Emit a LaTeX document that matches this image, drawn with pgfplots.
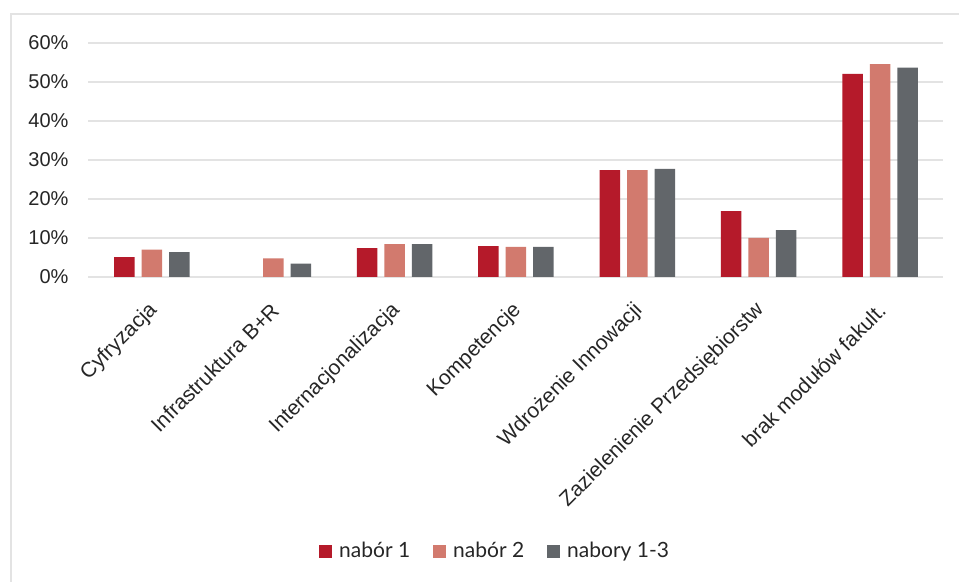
\documentclass[border=0pt]{standalone}
\usepackage{pgfplots}
\pgfplotsset{compat=1.18}
\usepackage{fontspec}
\setmainfont{Liberation Sans}
\newfontfamily\legendfont{Lato}

\definecolor{nabA}{HTML}{B51A2A}
\definecolor{nabB}{HTML}{D27A6E}
\definecolor{nabC}{HTML}{62666A}
\definecolor{gridc}{HTML}{E3E3E3}
\definecolor{txt}{HTML}{262626}

\begin{document}
\begin{tikzpicture}
\useasboundingbox (0,0) rectangle (959bp,582bp);
\fill[white] (0,0) rectangle (959bp,582bp);
% chart frame
\draw[gridc, line width=2bp] (11bp,0) -- (11bp,568bp) -- (960bp,568bp);
\begin{axis}[
  at={(88bp,305bp)}, anchor=south west,
  scale only axis, width=855bp, height=234bp,
  xmin=-0.527, xmax=6.519, ymin=0, ymax=60,
  ybar=7bp, bar width=20.5bp,
  axis line style={draw=none},
  major tick length=0pt,
  ymajorgrids, major grid style={gridc, line width=1.6bp},
  ytick={0,10,...,60},
  yticklabels={0\%,10\%,20\%,30\%,40\%,50\%,60\%},
  xtick={0,...,6},
  xticklabels={Cyfryzacja,Infrastruktura B+R,Internacjonalizacja,Kompetencje,Wdrożenie Innowacji,Zazielenienie Przedsiębiorstw,brak modułów fakult.},
  ticklabel style={text=txt},
  yticklabel style={font=\fontsize{20bp}{24bp}\selectfont, anchor=east, xshift=-16bp},
  xticklabel style={font=\fontsize{21bp}{25bp}\selectfont, anchor=east, inner sep=0pt,
    xshift=2bp, yshift=-30bp, rotate=45},
  legend columns=-1,
  legend style={at={(0.475,-1.171)}, anchor=center, draw=none, fill=none,
    font=\legendfont\fontsize{21bp}{25bp}\selectfont, text=txt,
    nodes={inner sep=0pt},
    /tikz/every odd column/.append style={column sep=7bp},
    /tikz/every even column/.append style={column sep=23bp}},
  legend image code/.code={\fill[#1] (0bp,-6.5bp) rectangle (13bp,6.5bp);},
]
% nabór 1 has no value for Infrastruktura B+R (0%)
\addplot[fill=nabA, draw=none] coordinates {(0,5.1) (2,7.4) (3,7.9) (4,27.4) (5,16.9) (6,52.1)};
\addplot[fill=nabB, draw=none] coordinates {(0,7.0) (1,4.8) (2,8.4) (3,7.7) (4,27.4) (5,10.0) (6,54.6)};
\addplot[fill=nabC, draw=none] coordinates {(0,6.4) (1,3.4) (2,8.4) (3,7.7) (4,27.7) (5,12.0) (6,53.7)};
\legend{nabór 1, nabór 2, nabory 1-3}
\end{axis}
\end{tikzpicture}
\end{document}
